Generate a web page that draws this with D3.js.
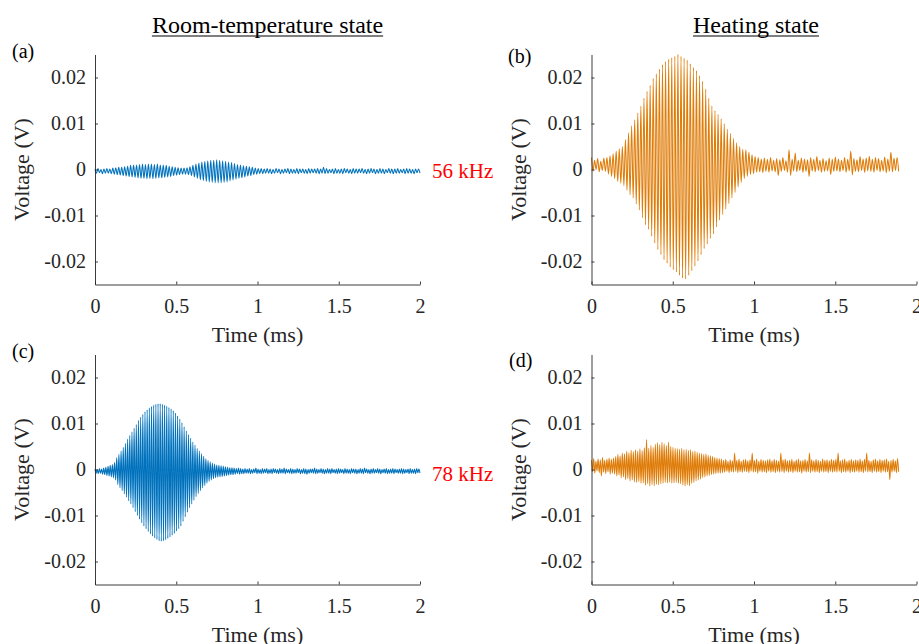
<!DOCTYPE html>
<html>
<head>
<meta charset="utf-8">
<script src="https://cdn.jsdelivr.net/npm/d3@7"></script>
<style>
  body { margin: 0; background: #fff; }
  svg text { font-family: "Liberation Serif", "Times New Roman", serif; }
</style>
</head>
<body>
<svg id="chart" width="919" height="644"></svg>
<script>
// ticks: time in ms, voltage in V
const timeTicks = [0, 0.5, 1, 1.5, 2];
const voltTicks = [-0.02, -0.01, 0, 0.01, 0.02];
const columnTitles = ["Room-temperature state", "Heating state"];
const freqLabels = ["56 kHz", "78 kHz"];
const panelTags = ["(a)", "(b)", "(c)", "(d)"];
// length of each recorded trace (ms)
const recordEnd = [2, 1.89, 2, 1.89];

// successive positive / negative peaks of each trace, in mV
const peaksA = [
  0.1,-0.8, 0.2,-0.7, 0.0,-0.9, 0.1,-0.8, 0.2,-0.8, 0.1,-0.9, 0.3,-1.0, 0.4,-1.1, 0.5,-1.2, 0.5,-1.3,
  0.6,-1.4, 0.7,-1.5, 0.9,-1.6, 1.0,-1.7, 1.0,-1.8, 1.1,-1.9, 1.2,-1.9, 1.1,-2.0, 1.2,-1.9, 1.2,-2.0,
  1.1,-1.9, 1.2,-1.8, 1.0,-1.8, 1.0,-1.7, 0.9,-1.6, 0.7,-1.5, 0.6,-1.3, 0.5,-1.2, 0.4,-1.1, 0.3,-1.0,
  0.3,-1.0, 0.4,-1.1, 0.6,-1.3, 0.9,-1.6, 1.2,-1.9, 1.4,-2.2, 1.6,-2.4, 1.8,-2.6, 1.9,-2.7, 2.0,-2.8,
  2.0,-2.9, 2.1,-2.9, 2.0,-2.9, 1.9,-2.8, 1.8,-2.7, 1.6,-2.5, 1.5,-2.3, 1.3,-2.1, 1.1,-1.9, 1.0,-1.8,
  0.8,-1.6, 0.7,-1.4, 0.6,-1.3, 0.5,-1.1, 0.3,-1.0, 0.2,-0.9, 0.2,-0.9, 0.1,-0.8, 0.2,-0.8, 0.1,-0.9,
  0.0,-0.8, 0.2,-0.7, 0.1,-0.9, 0.0,-0.8, 0.1,-0.7, 0.2,-0.9, 0.1,-0.8, 0.0,-0.8, 0.2,-0.9, 0.1,-0.7,
  0.1,-0.8, 0.0,-0.9, 0.2,-0.8, 0.1,-0.7, 0.1,-0.8, 0.2,-0.9, 0.1,-0.8, 0.5,-0.9, 0.2,-0.8, 0.0,-0.7,
  0.1,-0.9, 0.2,-0.8, 0.0,-0.8, 0.1,-0.9, 0.2,-0.7, 0.1,-0.8, 0.0,-0.9, 0.2,-0.8, 0.1,-0.8, 0.1,-0.7,
  0.2,-0.8, 0.0,-0.9, 0.1,-0.8, 0.2,-0.7, 0.1,-0.9, 0.0,-0.8, 0.2,-0.8, 0.1,-0.9, 0.0,-0.7, 0.2,-0.8,
  0.1,-0.9, 0.1,-0.8, 0.2,-0.8, 0.0,-0.7, 0.1,-0.9, 0.2,-0.8, 0.1,-0.8, 0.0,-0.9, 0.1,-0.7, 0.1,-0.8
];

const peaksB = [
  2.6,-0.3, 2.0,0.0, 2.4,-0.5, 1.8,-0.2, 2.5,-0.4, 2.6,-1.0, 3.0,-1.5, 3.4,-2.0, 4.0,-2.6, 4.5,-3.0,
  5.0,-3.5, 6.5,-4.5, 8.0,-5.5, 9.5,-6.2, 10.8,-7.5, 12.3,-8.8, 13.8,-10.5, 15.5,-12.0, 17.0,-13.0, 18.3,-14.5,
  19.8,-16.0, 20.8,-17.4, 21.8,-18.5, 22.8,-19.6, 23.5,-20.4, 24.0,-21.2, 24.3,-21.8, 24.6,-22.3, 25.0,-23.0, 24.6,-23.6,
  24.2,-23.8, 23.8,-23.0, 23.0,-22.0, 22.2,-21.0, 21.5,-19.9, 20.4,-18.5, 19.2,-17.2, 17.5,-16.2, 15.5,-15.0, 13.8,-14.0,
  12.8,-12.5, 12.0,-11.0, 11.0,-9.8, 10.0,-8.6, 8.8,-7.4, 7.8,-6.2, 6.8,-5.0, 5.8,-3.8, 5.0,-2.8, 4.4,-2.0,
  4.3,-1.5, 3.8,-1.1, 3.2,-0.9, 2.8,-0.6, 2.6,-0.5, 2.3,-0.7, 2.5,-0.4, 2.2,-0.6, 2.6,-0.3, 2.0,-0.5,
  2.4,-1.3, 2.1,-0.4, 2.6,-0.2, 1.9,-0.6, 4.3,-1.3, 2.2,-0.3, 3.6,-0.5, 2.0,-0.2, 2.5,-0.6, 2.3,-0.4,
  2.1,-1.5, 2.6,-0.3, 2.2,-0.5, 2.8,-0.2, 2.0,-0.6, 2.4,-0.4, 1.9,-0.3, 2.5,-1.1, 2.2,-0.4, 2.7,-0.3,
  2.3,-0.5, 2.0,-0.2, 2.6,-0.6, 2.2,-0.3, 4.0,-1.2, 2.4,-0.4, 2.1,-0.5, 2.8,-0.2, 2.3,-0.6, 2.5,-0.3,
  2.9,-0.4, 2.2,-0.6, 2.6,-0.2, 2.4,-0.5, 2.0,-0.3, 2.7,-0.7, 2.3,-0.4, 3.8,-0.5, 2.5,-0.2, 2.6,-0.4
];

const peaksC = [
  0.1,-0.8, 0.0,-0.9, 0.2,-0.8, 0.1,-1.0, 0.3,-1.1, 0.5,-1.3, 0.7,-1.4, 0.9,-1.6, 1.1,-1.8, 1.5,-2.3,
  2.6,-3.3, 3.3,-4.0, 4.0,-4.6, 4.8,-5.3, 5.7,-6.0, 6.6,-6.8, 7.4,-7.5, 8.2,-8.3, 9.0,-9.2, 9.8,-10.0,
  10.7,-10.8, 11.4,-11.6, 12.0,-12.3, 12.6,-12.9, 13.0,-13.5, 13.4,-14.0, 13.7,-14.5, 14.0,-14.9, 14.2,-15.2, 14.3,-15.5,
  14.3,-15.6, 14.2,-15.5, 14.0,-15.3, 13.8,-15.0, 13.5,-14.7, 13.2,-14.3, 12.8,-13.9, 12.3,-13.4, 11.7,-12.9, 11.0,-12.3,
  10.2,-11.3, 9.3,-10.3, 8.4,-9.3, 7.6,-8.3, 6.8,-7.5, 6.0,-6.7, 5.3,-5.9, 4.6,-5.2, 4.0,-4.6, 3.4,-4.0,
  2.9,-3.5, 2.4,-3.0, 2.0,-2.6, 1.7,-2.3, 1.4,-2.0, 1.2,-1.8, 1.0,-1.7, 0.9,-1.6, 0.8,-1.5, 0.7,-1.4,
  0.6,-1.3, 0.5,-1.2, 0.4,-1.1, 0.4,-1.1, 0.3,-1.0, 0.2,-0.9, 0.3,-1.0, 0.2,-0.9, 0.1,-0.9, 0.2,-0.8,
  0.1,-0.8, 0.2,-0.9, 0.0,-0.8, 0.1,-0.7, 0.3,-0.9, 0.1,-0.8, 0.0,-0.9, 0.2,-0.8, 0.1,-0.7, 0.2,-0.9,
  0.0,-0.8, 0.1,-0.9, 0.2,-0.7, 0.1,-0.8, 0.0,-0.9, 0.2,-0.8, 0.1,-0.8, 0.3,-0.9, 0.1,-0.7, 0.0,-0.8,
  0.2,-0.9, 0.1,-0.8, 0.0,-0.8, 0.2,-0.7, 0.1,-0.9, 0.0,-0.8, 0.2,-0.9, 0.1,-1.0, 0.0,-0.8, 0.1,-0.7,
  0.1,-0.8, 0.3,-0.9, 0.1,-0.8, 0.0,-0.7, 0.2,-0.8, 0.1,-0.9, 0.0,-0.8, 0.2,-0.8, 0.1,-0.9, 0.2,-0.7,
  0.0,-0.8, 0.1,-0.9, 0.2,-0.8, 0.1,-0.7, 0.0,-0.9, 0.2,-0.8, 0.1,-0.8, 0.0,-0.9, 0.2,-0.7, 0.1,-0.8,
  0.1,-0.9, 0.0,-0.8, 0.2,-0.8, 0.1,-0.9, 0.3,-0.7, 0.1,-0.8, 0.0,-0.9, 0.1,-0.8, 0.2,-0.8, 0.0,-0.7,
  0.2,-0.8, 0.1,-0.9, 0.0,-0.7, 0.1,-0.8, 0.2,-0.9, 0.0,-0.8, 0.1,-0.8, 0.2,-0.9, 0.1,-0.7, 0.0,-0.8,
  0.1,-0.8, 0.2,-0.9, 0.1,-0.8, 0.0,-0.7, 0.1,-0.9, 0.2,-0.8, 0.0,-0.8, 0.1,-0.9, 0.2,-0.7, 0.1,-0.8
];

const peaksD = [
  2.0,-0.5, 2.4,-0.8, 1.8,-0.3, 2.3,-0.7, 2.1,-1.4, 2.6,-0.6, 2.0,-0.9, 2.3,-0.5, 2.5,-1.0, 2.2,-0.8,
  2.5,-1.0, 2.8,-1.4, 3.3,-1.2, 3.0,-1.8, 3.6,-1.6, 3.4,-2.2, 4.0,-2.0, 3.7,-2.5, 4.2,-2.3, 3.9,-2.7,
  4.3,-2.8, 4.0,-2.6, 4.5,-3.0, 4.1,-2.9, 4.7,-3.4, 6.5,-3.1, 4.6,-3.6, 5.2,-3.3, 4.8,-3.5, 5.5,-3.2,
  5.8,-3.3, 5.4,-3.1, 5.9,-3.0, 5.6,-2.8, 5.2,-2.9, 5.9,-2.7, 5.0,-3.0, 4.8,-2.9, 4.6,-2.8, 4.5,-3.0,
  4.4,-3.1, 4.6,-3.4, 4.3,-3.6, 4.4,-3.3, 4.1,-3.5, 4.3,-3.0, 3.9,-2.8, 4.0,-2.5, 3.8,-2.3, 3.6,-2.1,
  3.5,-1.8, 3.3,-1.6, 3.4,-1.4, 3.1,-1.3, 3.0,-1.1, 2.8,-1.0, 2.6,-0.9, 2.5,-0.8, 2.4,-0.8, 2.3,-0.7,
  2.0,-0.6, 2.2,-0.4, 1.8,-0.7, 2.1,-0.5, 1.9,-0.6, 3.6,-0.4, 2.0,-0.7, 2.3,-0.5, 1.8,-0.6, 2.1,-0.4,
  2.2,-0.5, 1.9,-0.7, 2.1,-0.4, 3.6,-0.6, 2.0,-0.5, 2.3,-0.8, 1.8,-0.4, 2.2,-0.6, 2.0,-0.5, 1.9,-0.7,
  2.1,-0.4, 2.3,-0.6, 1.9,-0.5, 2.2,-0.7, 2.0,-0.4, 1.8,-0.6, 3.6,-0.5, 2.1,-0.7, 2.3,-0.4, 1.9,-0.6,
  2.0,-0.5, 2.2,-0.7, 1.8,-0.4, 2.1,-0.6, 2.3,-0.5, 1.9,-0.8, 2.0,-0.4, 2.2,-0.6, 1.9,-0.5, 3.6,-0.7,
  2.1,-0.4, 1.9,-0.6, 2.2,-0.5, 2.0,-0.7, 1.8,-0.4, 2.3,-0.6, 2.0,-0.5, 2.1,-0.7, 1.9,-0.4, 2.2,-0.6,
  2.0,-0.5, 2.2,-0.6, 3.6,-0.4, 1.9,-0.7, 2.1,-0.5, 2.3,-0.6, 1.8,-0.4, 2.0,-0.7, 2.2,-0.5, 1.9,-0.6,
  2.1,-0.4, 2.0,-0.6, 2.3,-0.5, 1.9,-0.7, 2.2,-0.4, 3.6,-0.6, 2.0,-0.5, 1.8,-0.7, 2.1,-0.4, 2.3,-0.6,
  1.9,-0.5, 2.2,-0.7, 2.0,-0.4, 2.1,-0.6, 2.3,-0.5, 1.8,-2.2, 2.0,-0.6, 2.2,-0.4, 1.9,-0.7, 2.4,-0.5
];

const traces = [peaksA, peaksB, peaksC, peaksD];

// layout
const plotW = 325, plotH = 230;
const blue = "#0072BD", orange = "#DF7C08", ink = "#262626";
const panels = [
  { left: 95,    top: 54.5,  color: blue,   tagX: 12,  tagY: 58 },
  { left: 591.5, top: 54.5,  color: orange, tagX: 508, tagY: 63 },
  { left: 95,    top: 354.5, color: blue,   tagX: 12,  tagY: 358 },
  { left: 591.5, top: 354.5, color: orange, tagX: 509, tagY: 367 }
];

const svg = d3.select("#chart");

panels.forEach(function (p, k) {
    let x = d3.scaleLinear().domain([0, 2]).range([p.left, p.left + plotW]);
    let y = d3.scaleLinear().domain([-0.025, 0.025]).range([p.top + plotH, p.top]);
    let peaks = traces[k];
    // peak index -> time
    let idx = d3.scaleLinear().domain([0, peaks.length - 1]).range([0, recordEnd[k]]);

    let line = d3.line()
        .x((d, i) => x(idx(i)))
        .y(d => y(d / 1000))
        .curve(d3.curveMonotoneX);

    svg.append("path")
        .datum(peaks)
        .attr("d", line)
        .attr("fill", "none")
        .attr("stroke", p.color)
        .attr("stroke-width", 1.05);

    let yAxis = d3.axisLeft(y)
        .tickValues(voltTicks)
        .tickSize(-3)
        .tickSizeOuter(0)
        .tickPadding(9)
        .tickFormat(d => String(d));

    let gy = svg.append("g")
        .attr("transform", "translate(" + p.left + ",0)")
        .call(yAxis);

    let xAxis = d3.axisBottom(x)
        .tickValues(timeTicks)
        .tickSize(-3)
        .tickSizeOuter(0)
        .tickPadding(14)
        .tickFormat(d => String(d));

    let gx = svg.append("g")
        .attr("transform", "translate(0," + (p.top + plotH) + ")")
        .call(xAxis);

    [gx, gy].forEach(function (g) {
        g.attr("font-family", null).attr("font-size", 20);
        g.selectAll("path, line").attr("stroke", ink).attr("stroke-width", 0.9);
        g.selectAll("text").attr("fill", ink);
    });

    svg.append("text")
        .attr("x", p.left + plotW / 2)
        .attr("y", p.top + 287.5)
        .attr("text-anchor", "middle")
        .attr("font-size", 22)
        .attr("fill", ink)
        .text("Time (ms)");

    svg.append("text")
        .attr("transform", "translate(" + (p.left - 66) + "," + (p.top + plotH / 2) + ") rotate(-90)")
        .attr("text-anchor", "middle")
        .attr("font-size", 22)
        .attr("fill", ink)
        .text("Voltage (V)");

    svg.append("text")
        .attr("x", p.tagX)
        .attr("y", p.tagY)
        .attr("font-size", 20)
        .attr("fill", "#000")
        .text(panelTags[k]);
});

// column titles, underlined
[[267.5, 0], [756, 1]].forEach(function (c) {
    let t = svg.append("text")
        .attr("x", c[0])
        .attr("y", 33)
        .attr("text-anchor", "middle")
        .attr("font-size", 24)
        .attr("fill", "#000")
        .text(columnTitles[c[1]]);
    let w = t.node().getComputedTextLength();
    svg.append("line")
        .attr("x1", c[0] - w / 2).attr("x2", c[0] + w / 2)
        .attr("y1", 36).attr("y2", 36)
        .attr("stroke", "#000").attr("stroke-width", 1.1);
});

// frequency labels between the columns
freqLabels.forEach(function (f, r) {
    svg.append("text")
        .attr("x", 432)
        .attr("y", 178 + r * 303)
        .attr("font-size", 21)
        .attr("fill", "#FF0000")
        .text(f);
});
</script>
</body>
</html>
